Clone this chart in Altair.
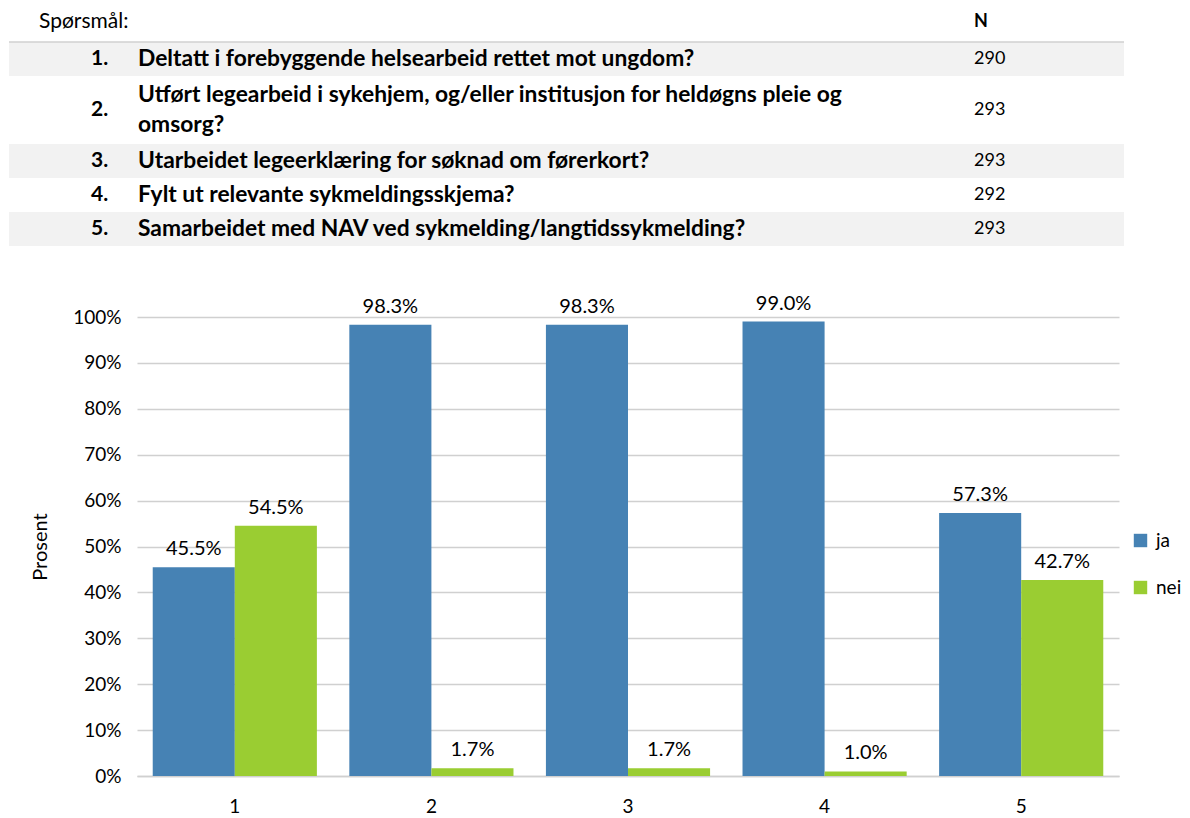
import altair as alt
import pandas as pd

# ---------------- data ----------------
categories = ["1", "2", "3", "4", "5"]
series = ["ja", "nei"]
ja_values = [45.5, 98.3, 98.3, 99.0, 57.3]
nei_values = [54.5, 1.7, 1.7, 1.0, 42.7]
colors = ["#4682B4", "#9ACD32"]

question_numbers = ["1.", "2.", "3.", "4.", "5."]
question_lines = [
    ["Deltatt i forebyggende helsearbeid rettet mot ungdom?"],
    ["Utført legearbeid i sykehjem, og/eller institusjon for heldøgns pleie og", "omsorg?"],
    ["Utarbeidet legeerklæring for søknad om førerkort?"],
    ["Fylt ut relevante sykmeldingsskjema?"],
    ["Samarbeidet med NAV ved sykmelding/langtidssykmelding?"],
]
n_values = [290, 293, 293, 292, 293]
row_spans = [1, 2, 1, 1, 1]
header_question = "Spørsmål:"
header_n = "N"

FONT = "Lato"
TABLE_LEFT = -128
TABLE_RIGHT = 987
TABLE_H = 238

# ---------------- table ----------------
band_rows, text_rows = [], []
start = 1.0
for i, (num, lines, n, span) in enumerate(zip(question_numbers, question_lines, n_values, row_spans)):
    end = start + span
    band_rows.append({"start": start, "end": end, "shade": "g" if i % 2 == 0 else "w"})
    center = (start + end) / 2
    text_rows.append({"y": center, "text": num, "col": "num"})
    k = len(lines)
    for j, line in enumerate(lines):
        text_rows.append({"y": center + (j - (k - 1) / 2) * 0.88, "text": line, "col": "q"})
    text_rows.append({"y": center, "text": str(n), "col": "n"})
    start = end
total_units = start

yscale = alt.Scale(domain=[0, total_units], reverse=True, nice=False, zero=False)
bands_df = pd.DataFrame(band_rows)
texts_df = pd.DataFrame(text_rows)

bands = alt.Chart(bands_df).transform_filter(alt.datum.shade == "g").mark_rect(color="#f2f2f2").encode(
    y=alt.Y("start:Q", scale=yscale, axis=None),
    y2="end:Q",
    x=alt.value(TABLE_LEFT),
    x2=alt.value(TABLE_RIGHT),
)
header_line = alt.Chart(pd.DataFrame({"y": [1.0]})).mark_rule(color="#d0d0d0", strokeWidth=1.5).encode(
    y=alt.Y("y:Q", scale=yscale, axis=None),
    x=alt.value(TABLE_LEFT),
    x2=alt.value(TABLE_RIGHT),
)
num_text = alt.Chart(texts_df).transform_filter(alt.datum.col == "num").mark_text(
    font=FONT, fontSize=21, fontWeight="bold", align="left", baseline="middle", color="#000000"
).encode(y=alt.Y("y:Q", scale=yscale, axis=None), x=alt.value(-46), text="text:N")
q_text = alt.Chart(texts_df).transform_filter(alt.datum.col == "q").mark_text(
    font=FONT, fontSize=22.8, fontWeight="bold", align="left", baseline="middle", color="#000000"
).encode(y=alt.Y("y:Q", scale=yscale, axis=None), x=alt.value(1), text="text:N")
n_text = alt.Chart(texts_df).transform_filter(alt.datum.col == "n").mark_text(
    font=FONT, fontSize=18, align="left", baseline="middle", color="#000000"
).encode(y=alt.Y("y:Q", scale=yscale, axis=None), x=alt.value(837), text="text:N")
head_df = pd.DataFrame({"y": [0.4, 0.4], "text": [header_question, header_n], "col": ["q", "n"]})
head_q = alt.Chart(head_df).transform_filter(alt.datum.col == "q").mark_text(
    font=FONT, fontSize=21, align="left", baseline="middle", color="#000000"
).encode(y=alt.Y("y:Q", scale=yscale, axis=None), x=alt.value(-98), text="text:N")
head_n = alt.Chart(head_df).transform_filter(alt.datum.col == "n").mark_text(
    font=FONT, fontSize=18, fontWeight="bold", align="left", baseline="middle", color="#000000"
).encode(y=alt.Y("y:Q", scale=yscale, axis=None), x=alt.value(837), text="text:N")

table = alt.layer(bands, header_line, head_q, head_n, num_text, q_text, n_text).properties(
    width=TABLE_RIGHT, height=TABLE_H
)

# ---------------- bar chart ----------------
rows = []
for c, a, b in zip(categories, ja_values, nei_values):
    rows.append({"cat": c, "series": series[0], "value": a / 100})
    rows.append({"cat": c, "series": series[1], "value": b / 100})
bar_df = pd.DataFrame(rows)

x_enc = alt.X("cat:N", sort=categories, title=None,
              scale=alt.Scale(paddingInner=0.165, paddingOuter=0.08),
              axis=alt.Axis(labelAngle=0, ticks=False, domain=True, domainColor="#d0d0d0",
                            domainWidth=1.5, labelFont=FONT, labelFontSize=19, labelColor="#000000",
                            labelPadding=21))
y_enc = alt.Y("value:Q", title="Prosent", scale=alt.Scale(domain=[0, 1], nice=False),
              axis=alt.Axis(format=".0%", values=[i / 10 for i in range(11)], domain=False, ticks=False,
                            gridColor="#d0d0d0", gridWidth=1.5, labelFont=FONT, labelFontSize=19,
                            labelColor="#000000", labelPadding=16, titleFont=FONT, titleFontSize=20,
                            titleFontWeight="normal", titleColor="#000000", titlePadding=22))
color_enc = alt.Color("series:N", scale=alt.Scale(domain=series, range=colors),
                      legend=alt.Legend(title=None, symbolType="square", symbolSize=180,
                                        symbolStrokeWidth=0, labelFont=FONT, labelFontSize=19,
                                        labelColor="#000000", rowPadding=27, labelOffset=6,
                                        orient="none", legendX=994, legendY=523,
                                        direction="vertical"))

base = alt.Chart(bar_df).encode(
    x=x_enc,
    xOffset=alt.XOffset("series:N", sort=series, scale=alt.Scale(paddingInner=0, paddingOuter=0)),
    y=y_enc,
)
bars = base.mark_bar(opacity=1).encode(color=color_enc)
labels = base.mark_text(font=FONT, fontSize=20, baseline="alphabetic", dy=-12, color="#000000").encode(
    text=alt.Text("value:Q", format=".1%")
)
barchart = alt.layer(bars, labels).properties(width=982, height=459)

chart = alt.vconcat(table, barchart, spacing=47).properties(
    padding={"left": 0, "top": 0, "right": 0, "bottom": 0}
).configure(font=FONT).configure_view(stroke=None)

chart.save("out.html", embed_options={"renderer": "svg", "actions": False})
